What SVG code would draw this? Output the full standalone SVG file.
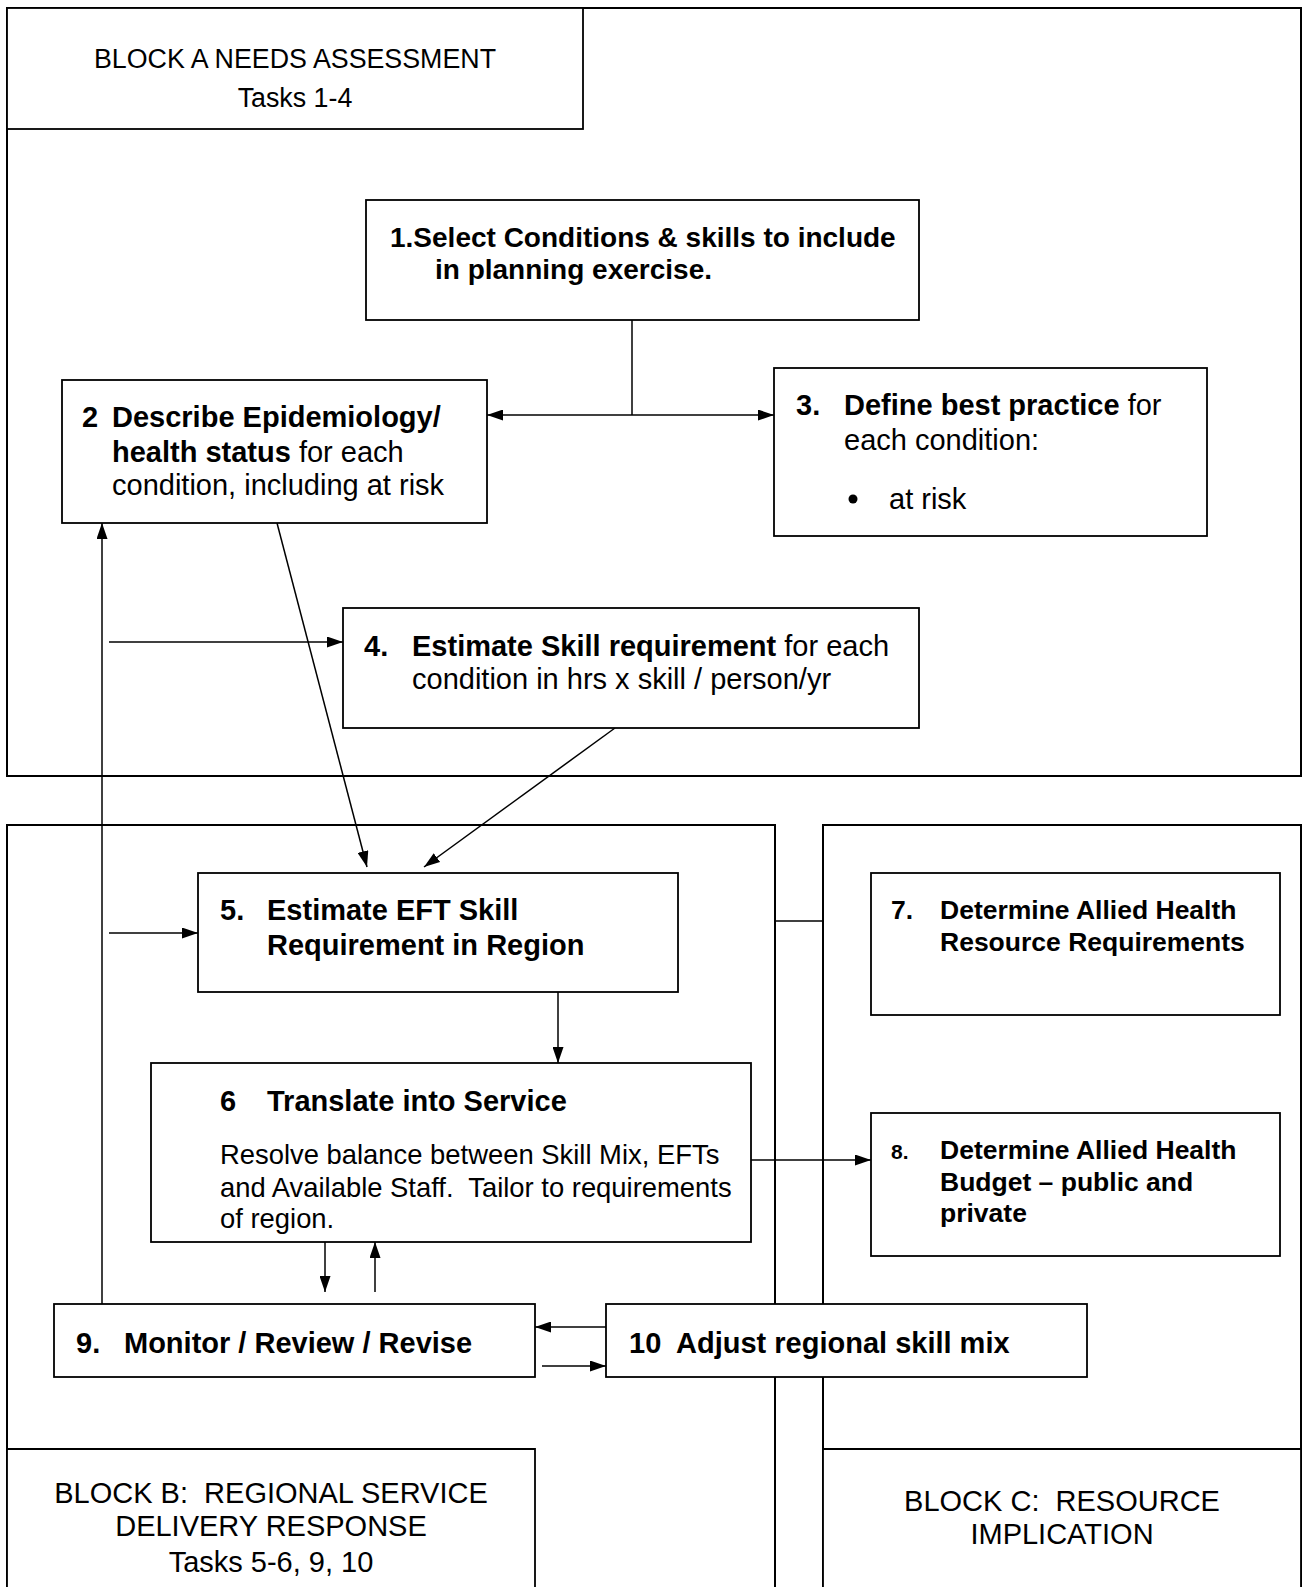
<svg xmlns="http://www.w3.org/2000/svg" width="1303" height="1587" viewBox="0 0 1303 1587">
<style>
.blk{fill:none;stroke:#000;stroke-width:2}
.box{fill:#fff;stroke:#000;stroke-width:1.8}
.lbl{fill:#fff;stroke:#000;stroke-width:1.8}
.c{fill:none;stroke:#000;stroke-width:1.5}
text{font-family:"Liberation Sans",Arial,sans-serif;fill:#000;font-size:29px;white-space:pre}
.b{font-weight:bold}
.mid{text-anchor:middle}
</style>
<defs>
<marker id="ah" viewBox="0 0 16 11" refX="16" refY="5.5" markerWidth="16" markerHeight="11" markerUnits="userSpaceOnUse" orient="auto"><path d="M0,0 L16,5.5 L0,11 z" fill="#000"/></marker>
</defs>
<rect width="1303" height="1587" fill="#fff"/>
<g id="blockA">
<rect class="blk" x="7" y="8" width="1294" height="768"/>
<rect class="lbl" x="7" y="8" width="576" height="121"/>
<text class="mid" x="295" y="68" style="font-size:26.8px">BLOCK A NEEDS ASSESSMENT</text>
<text class="mid" x="295" y="107" style="font-size:26.8px">Tasks 1-4</text>
</g>
<g id="blockB">
<path class="blk" d="M7,1600 L7,825 L775,825 L775,1600"/>
<path class="lbl" d="M7,1600 L7,1449 L535,1449 L535,1600"/>
<text class="mid" x="271" y="1503" xml:space="preserve">BLOCK B:  REGIONAL SERVICE</text>
<text class="mid" x="271" y="1536">DELIVERY RESPONSE</text>
<text class="mid" x="271" y="1572">Tasks 5-6, 9, 10</text>
</g>
<g id="blockC">
<path class="blk" d="M823,1600 L823,825 L1301,825 L1301,1600"/>
<path class="lbl" d="M823,1600 L823,1449 L1301,1449 L1301,1600"/>
<text class="mid" x="1062" y="1511" xml:space="preserve">BLOCK C:  RESOURCE</text>
<text class="mid" x="1062" y="1544">IMPLICATION</text>
</g>
<g id="connectors">
<line class="c" x1="632" y1="320" x2="632" y2="415"/>
<line class="c" x1="632" y1="415" x2="487" y2="415" marker-end="url(#ah)"/>
<line class="c" x1="632" y1="415" x2="774" y2="415" marker-end="url(#ah)"/>
<line class="c" x1="102" y1="1304" x2="102" y2="523" marker-end="url(#ah)"/>
<line class="c" x1="109" y1="642" x2="343" y2="642" marker-end="url(#ah)"/>
<line class="c" x1="109" y1="933" x2="198" y2="933" marker-end="url(#ah)"/>
<line class="c" x1="277" y1="523" x2="367" y2="867" marker-end="url(#ah)"/>
<line class="c" x1="615" y1="728" x2="424" y2="867" marker-end="url(#ah)"/>
<line class="c" x1="558" y1="992" x2="558" y2="1063" marker-end="url(#ah)"/>
<line class="c" x1="751" y1="1160" x2="871" y2="1160" marker-end="url(#ah)"/>
<line class="c" x1="325" y1="1242" x2="325" y2="1292" marker-end="url(#ah)"/>
<line class="c" x1="375" y1="1292" x2="375" y2="1242" marker-end="url(#ah)"/>
<line class="c" x1="606" y1="1327" x2="535" y2="1327" marker-end="url(#ah)"/>
<line class="c" x1="542" y1="1366" x2="606" y2="1366" marker-end="url(#ah)"/>
<line class="c" x1="775" y1="921" x2="823" y2="921"/>
</g>
<g id="n1">
<rect class="box" x="366" y="200" width="553" height="120"/>
<text class="b" x="390" y="247" style="font-size:28px">1.Select Conditions &amp; skills to include</text>
<text class="b" x="435" y="279" style="font-size:28px">in planning exercise.</text>
</g>
<g id="n2">
<rect class="box" x="62" y="380" width="425" height="143"/>
<text class="b" x="82" y="427">2</text>
<text x="112" y="427"><tspan class="b">Describe Epidemiology/</tspan></text>
<text x="112" y="462"><tspan class="b">health status</tspan> for each</text>
<text x="112" y="495">condition, including at risk</text>
</g>
<g id="n3">
<rect class="box" x="774" y="368" width="433" height="168"/>
<text class="b" x="796" y="415">3.</text>
<text x="844" y="415"><tspan class="b">Define best practice</tspan> for</text>
<text x="844" y="450">each condition:</text>
<circle cx="853" cy="499" r="4.5" fill="#000"/>
<text x="889" y="509">at risk</text>
</g>
<g id="n4">
<rect class="box" x="343" y="608" width="576" height="120"/>
<text class="b" x="364" y="656">4.</text>
<text x="412" y="656"><tspan class="b">Estimate Skill requirement</tspan> for each</text>
<text x="412" y="689">condition in hrs x skill / person/yr</text>
</g>
<g id="n5">
<rect class="box" x="198" y="873" width="480" height="119"/>
<text class="b" x="220" y="920">5.</text>
<text class="b" x="267" y="920">Estimate EFT Skill</text>
<text class="b" x="267" y="955">Requirement in Region</text>
</g>
<g id="n6">
<rect class="box" x="151" y="1063" width="600" height="179"/>
<text class="b" x="220" y="1111">6</text>
<text class="b" x="267" y="1111">Translate into Service</text>
<text x="220" y="1164" style="font-size:27.4px">Resolve balance between Skill Mix, EFTs</text>
<text x="220" y="1197" style="font-size:27.4px" xml:space="preserve">and Available Staff.  Tailor to requirements</text>
<text x="220" y="1228" style="font-size:27.4px">of region.</text>
</g>
<g id="n7">
<rect class="box" x="871" y="873" width="409" height="142"/>
<text class="b" x="891" y="919" style="font-size:26.5px">7.</text>
<text class="b" x="940" y="919" style="font-size:26.5px">Determine Allied Health</text>
<text class="b" x="940" y="951" style="font-size:26.5px">Resource Requirements</text>
</g>
<g id="n8">
<rect class="box" x="871" y="1113" width="409" height="143"/>
<text class="b" x="891" y="1159" style="font-size:21px">8.</text>
<text class="b" x="940" y="1159" style="font-size:26.5px">Determine Allied Health</text>
<text class="b" x="940" y="1191" style="font-size:26.5px">Budget – public and</text>
<text class="b" x="940" y="1222" style="font-size:26.5px">private</text>
</g>
<g id="n9">
<rect class="box" x="54" y="1304" width="481" height="73"/>
<text class="b" x="76" y="1353">9.</text>
<text class="b" x="124" y="1353">Monitor / Review / Revise</text>
</g>
<g id="n10">
<rect class="box" x="606" y="1304" width="481" height="73"/>
<text class="b" x="629" y="1353">10</text>
<text class="b" x="676" y="1353">Adjust regional skill mix</text>
</g>
</svg>
